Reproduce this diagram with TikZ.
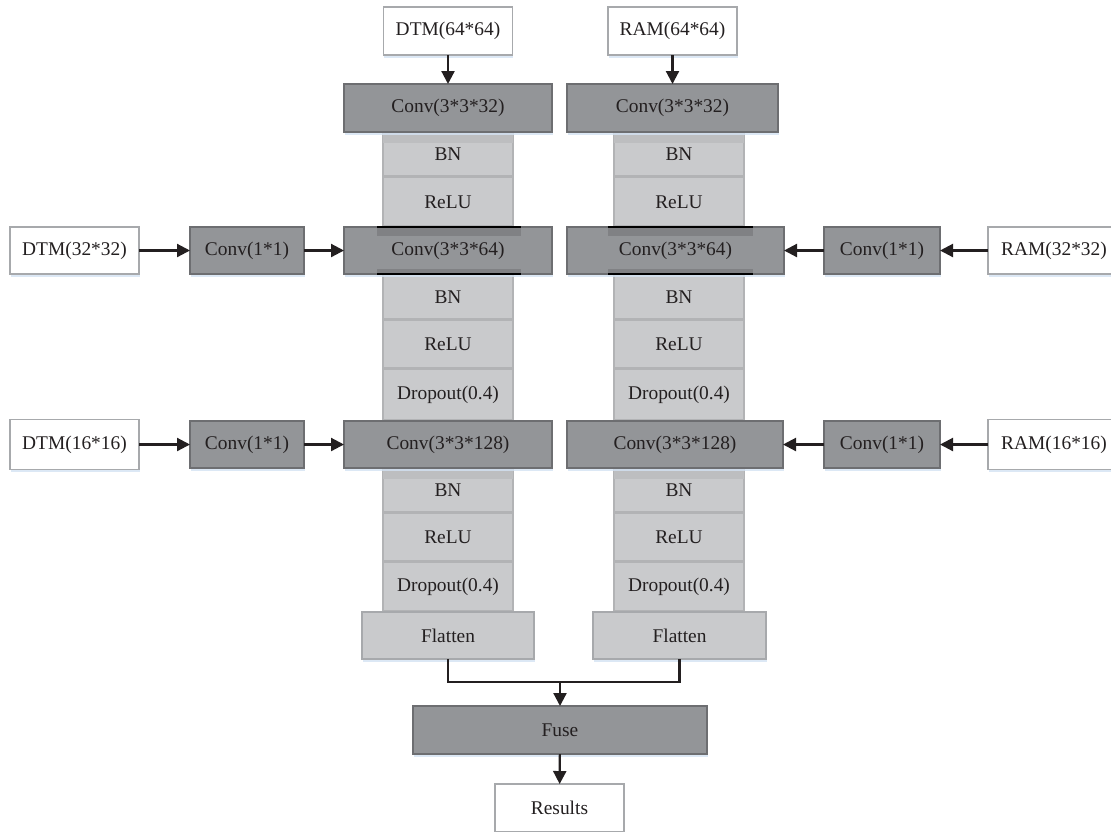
\documentclass[tikz,border=0pt]{standalone}
\usepackage{fontspec}
\setmainfont{Liberation Serif}
\usetikzlibrary{arrows.meta,shadows}
\definecolor{darkfill}{HTML}{939598}
\definecolor{darkedge}{HTML}{6D6E71}
\definecolor{darkband}{HTML}{808184}
\definecolor{lightfill}{HTML}{C9CACC}
\definecolor{lightedge}{HTML}{B2B3B5}
\definecolor{lightband}{HTML}{BDBEC0}
\definecolor{whiteedge}{HTML}{A7A9AC}
\definecolor{glowc}{HTML}{D3E2F2}
\definecolor{txt}{HTML}{231F20}
\begin{document}
\begin{tikzpicture}[x=0.5pt,y=-0.5pt,
  bw/.style={minimum width=#1*0.5pt},
  bh/.style={minimum height=#1*0.5pt},
  base/.style={rectangle, inner sep=0pt, outer sep=0pt,
    font=\fontsize{9.7}{11}\selectfont, text=txt},
  glow/.style={drop shadow={shadow xshift=0.4pt, shadow yshift=-1.4pt,
    fill=glowc, opacity=0.8}},
  inbox/.style={base, glow, fill=white, draw=whiteedge, line width=0.6pt},
  darkbox/.style={base, glow, fill=darkfill, draw=darkedge, line width=0.6pt},
  cellbox/.style={base, glow, fill=lightfill, draw=lightedge, line width=0.6pt,
    bw=130, path picture={\fill[lightedge]
      ([yshift=1.2pt]path picture bounding box.south west) rectangle
      (path picture bounding box.south east);}},
  flatbox/.style={base, glow, fill=lightfill, draw=whiteedge, line width=0.6pt},
  conn/.style={draw=txt, line width=1.1pt},
  arr/.style={conn, -{Triangle[length=6.5pt,width=6.5pt]}},
]
\useasboundingbox (0,0) rectangle (1111,831);

% ---------- left column ----------
\node[inbox, bw=129, bh=48] (dtm64) at (448,31) {DTM(64*64)};
\node[cellbox, bh=45] (lbn1) at (448,154.5) {BN};
\node[cellbox, bh=50] (lrelu1) at (448,202) {ReLU};
\fill[lightband] (383,132) rectangle (513,143);
\node[darkbox, bw=208, bh=48] (lc1) at (448,108) {Conv(3*3*32)};

\node[cellbox, bh=46] (lbn2) at (448,297) {BN};
\node[cellbox, bh=49] (lrelu2) at (448,344.5) {ReLU};
\node[cellbox, bh=52] (ldrop2) at (448,395) {Dropout(0.4)};
\node[darkbox, bw=208, bh=47] (lc2) at (448,250.5) {};
\fill[darkband] (377,227) rectangle (521,236);
\fill[darkband] (377,269) rectangle (521,274);
\draw[black, line width=0.6pt] (377,227) -- (521,227) (377,274) -- (521,274);
\node[base] (lc2t) at (lc2.center) {Conv(3*3*64)};

\node[cellbox, bh=45] (lbn3) at (448,490.5) {BN};
\node[cellbox, bh=49] (lrelu3) at (448,537.5) {ReLU};
\node[cellbox, bh=50] (ldrop3) at (448,587) {Dropout(0.4)};
\fill[lightband] (383,468) rectangle (513,479);
\node[darkbox, bw=208, bh=47] (lc3) at (448,444.5) {Conv(3*3*128)};
\node[flatbox, bw=172, bh=47] (lflat) at (448,635.5) {Flatten};

% ---------- right column ----------
\node[inbox, bw=129, bh=48] (ram64) at (672.5,31) {RAM(64*64)};
\node[cellbox, bh=45] (rbn1) at (679,154.5) {BN};
\node[cellbox, bh=50] (rrelu1) at (679,202) {ReLU};
\fill[lightband] (614,132) rectangle (744,143);
\node[darkbox, bw=211, bh=48] (rc1) at (672.5,108) {Conv(3*3*32)};

\node[cellbox, bh=46] (rbn2) at (679,297) {BN};
\node[cellbox, bh=49] (rrelu2) at (679,344.5) {ReLU};
\node[cellbox, bh=52] (rdrop2) at (679,395) {Dropout(0.4)};
\node[darkbox, bw=217, bh=47] (rc2) at (675.5,250.5) {};
\fill[darkband] (608,227) rectangle (753,236);
\fill[darkband] (608,269) rectangle (753,274);
\draw[black, line width=0.6pt] (608,227) -- (753,227) (608,274) -- (753,274);
\node[base] (rc2t) at (rc2.center) {Conv(3*3*64)};

\node[cellbox, bh=45] (rbn3) at (679,490.5) {BN};
\node[cellbox, bh=49] (rrelu3) at (679,537.5) {ReLU};
\node[cellbox, bh=50] (rdrop3) at (679,587) {Dropout(0.4)};
\fill[lightband] (614,468) rectangle (744,479);
\node[darkbox, bw=216, bh=47] (rc3) at (675,444.5) {Conv(3*3*128)};
\node[flatbox, bw=173, bh=47] (rflat) at (679.5,635.5) {Flatten};

% ---------- side inputs ----------
\node[inbox, bw=129, bh=47] (dtm32) at (74.5,250.5) {DTM(32*32)};
\node[darkbox, bw=114, bh=47] (lk1) at (247,250.5) {Conv(1*1)};
\node[inbox, bw=129, bh=50] (dtm16) at (74.5,444.5) {DTM(16*16)};
\node[darkbox, bw=114, bh=47] (lk2) at (247,444.5) {Conv(1*1)};

\node[inbox, bw=132, bh=47] (ram32) at (1054,250.5) {RAM(32*32)};
\node[darkbox, bw=116, bh=47] (rk1) at (882,250.5) {Conv(1*1)};
\node[inbox, bw=132, bh=50] (ram16) at (1054,444.5) {RAM(16*16)};
\node[darkbox, bw=116, bh=47] (rk2) at (882,444.5) {Conv(1*1)};

% ---------- fusion ----------
\node[darkbox, bw=294, bh=48] (fuse) at (560,730) {Fuse};
\node[inbox, bw=129, bh=48] (res) at (559.5,808) {Results};
\coordinate (join) at (560,682);

% ---------- connectors ----------
\draw[arr] (dtm64) -- (lc1);
\draw[arr] (ram64) -- (rc1);
\draw[arr] (dtm32) -- (lk1);
\draw[arr] (lk1) -- (lc2);
\draw[arr] (dtm16) -- (lk2);
\draw[arr] (lk2) -- (lc3);
\draw[arr] (ram32) -- (rk1);
\draw[arr] (rk1) -- (rc2);
\draw[arr] (ram16) -- (rk2);
\draw[arr] (rk2) -- (rc3);
\draw[conn] (lflat.south) |- (join);
\draw[conn] (rflat.south) |- (join);
\draw[arr] (join) -- (fuse);
\draw[arr] (fuse) -- (res);
\end{tikzpicture}
\end{document}
